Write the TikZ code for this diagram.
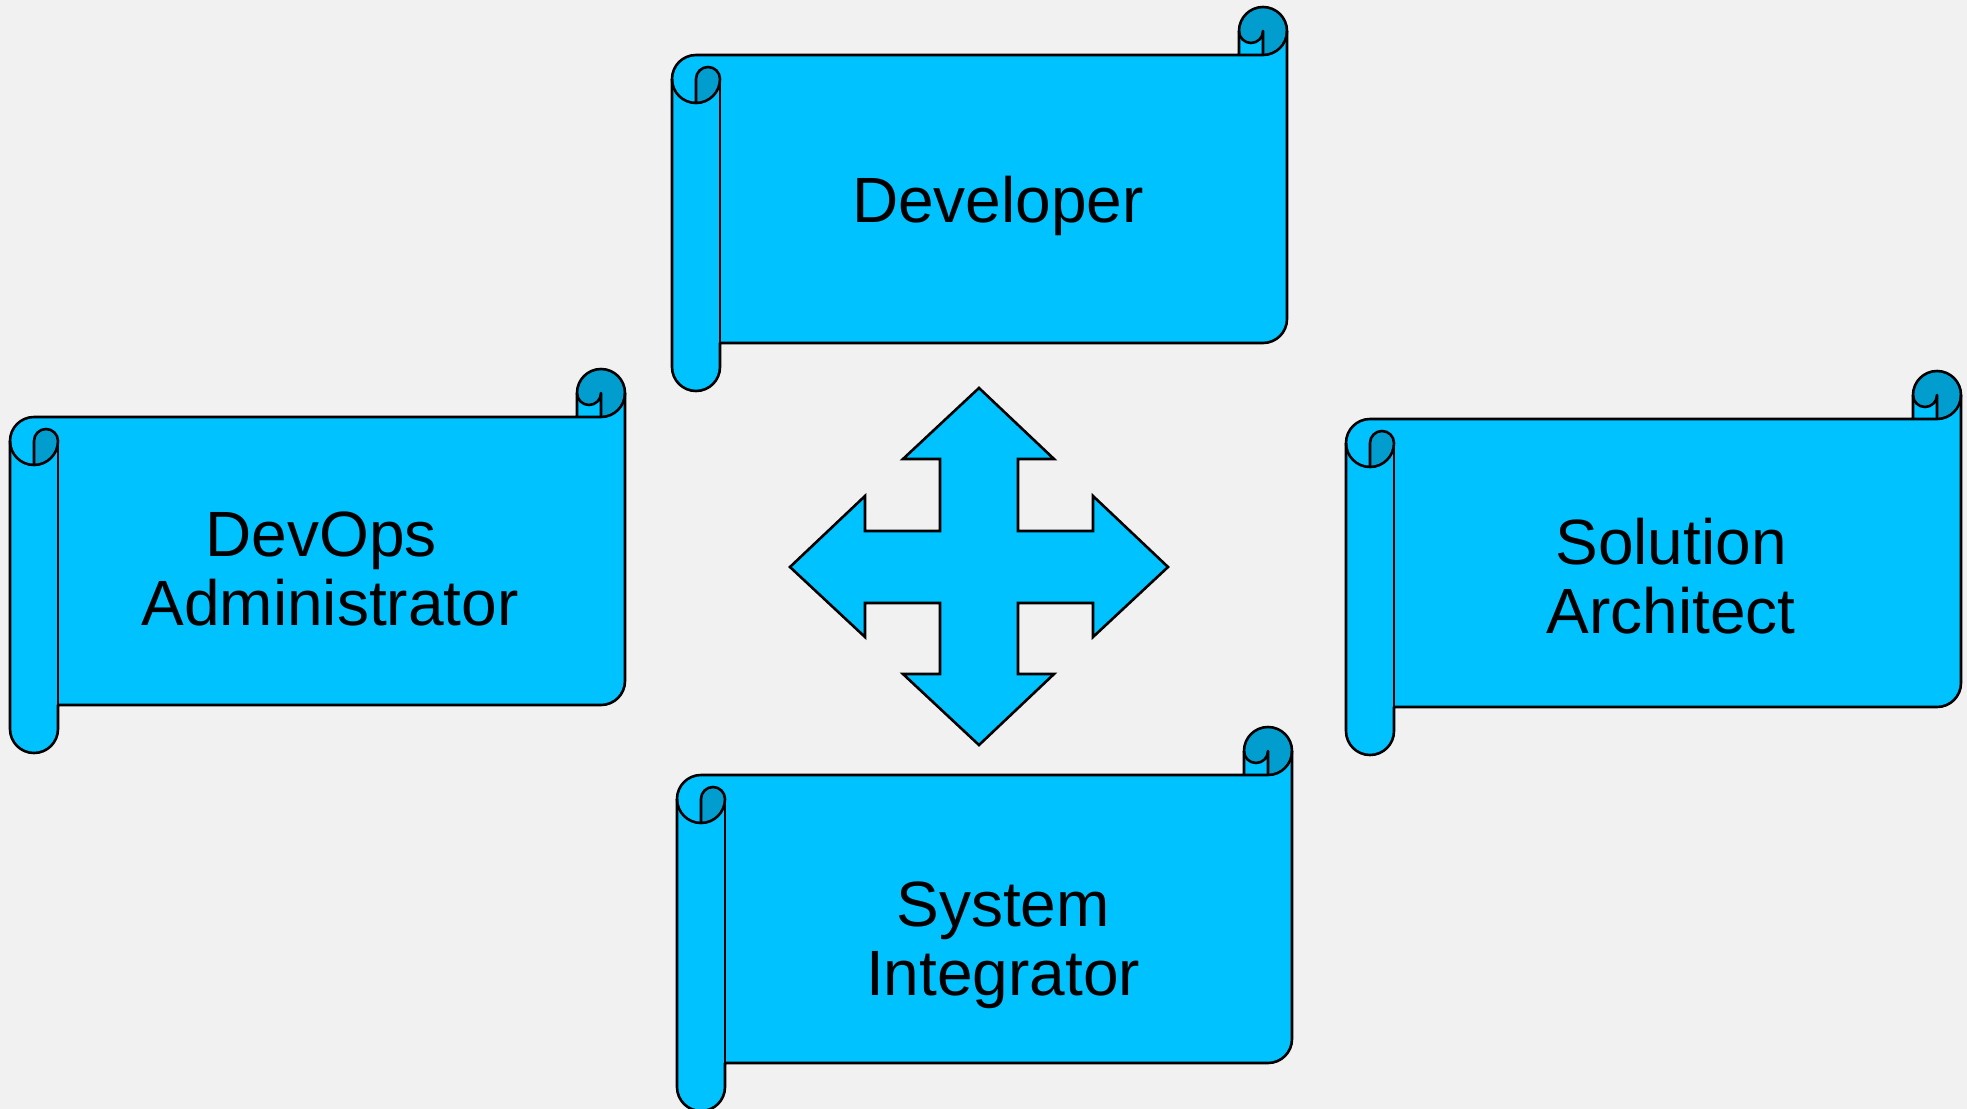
\documentclass[tikz,border=0pt]{standalone}
\usepackage{fontspec}
\setmainfont{Liberation Sans}
\definecolor{bgc}{HTML}{F1F1F1}
\definecolor{scrollc}{HTML}{00C2FF}
\definecolor{curlc}{HTML}{009DCE}
\newcommand{\myscroll}[2]{%
\begin{scope}[shift={(#1,#2)}]
 % body fill
 \fill[scrollc] (615,24) arc[start angle=0,delta angle=90,radius=24] -- (591,24)
   arc[start angle=0,delta angle=180,radius=12] -- (567,48) -- (24,48)
   arc[start angle=270,delta angle=-90,radius=24] -- (0,360)
   arc[start angle=180,delta angle=-180,radius=24] -- (48,336) -- (591,336)
   arc[start angle=90,delta angle=-90,radius=24] -- cycle;
 % darker curls
 \fill[curlc] (24,96) arc[start angle=90,delta angle=-90,radius=24]
   arc[start angle=0,delta angle=-180,radius=12] -- cycle;
 \fill[curlc] (591,48) arc[start angle=90,delta angle=-270,radius=24]
   arc[start angle=180,delta angle=-180,radius=12] -- cycle;
 % outlines
 \draw[outl] (0,72) arc[start angle=180,delta angle=90,radius=24] -- (567,48) -- (567,24)
   arc[start angle=180,delta angle=180,radius=24] -- (615,312)
   arc[start angle=0,delta angle=90,radius=24] -- (48,336) -- (48,360)
   arc[start angle=0,delta angle=180,radius=24] -- cycle;
 \draw[outl] (567,48) -- (591,48) arc[start angle=90,delta angle=-90,radius=24];
 \draw[outl] (591,48) -- (591,24) arc[start angle=0,delta angle=180,radius=12];
 \draw[outl] (24,96) -- (24,72) arc[start angle=180,delta angle=180,radius=12]
   arc[start angle=0,delta angle=180,radius=24];
 \draw[outl] (48,72) -- (48,336);
\end{scope}}
\begin{document}
\begin{tikzpicture}[x=0.5pt,y=-0.5pt,
  outl/.style={draw=black,line width=1.3pt,line join=round},
  lbl/.style={font=\fontsize{32}{34.5}\selectfont,align=center,anchor=base,inner sep=0pt,text=black}]
\useasboundingbox (0,0) rectangle (1967,1109);
\fill[bgc] (0,0) rectangle (1967,1109);
\myscroll{672}{7}
\myscroll{10}{369}
\myscroll{1346}{371}
\myscroll{677}{727}
\node[lbl] (dev) at (998,222) {Developer};
\node[lbl] (ops) at (330,625) {DevOps\hspace*{0.278em}\\Administrator};
\node[lbl] (sol) at (1671,633) {Solution\\Architect};
\node[lbl] (sys) at (1003,995) {System\\Integrator};
\filldraw[fill=scrollc,outl,line join=miter] (979,388) -- (1054,459) -- (1018,459) -- (1018,531) -- (1093,531) -- (1093,496)
  -- (1168,567) -- (1093,637) -- (1093,603) -- (1018,603) -- (1018,674) -- (1054,674)
  -- (979,745) -- (903,674) -- (940,674) -- (940,603) -- (865,603) -- (865,637)
  -- (790,567) -- (865,496) -- (865,531) -- (940,531) -- (940,459) -- (903,459) -- cycle;
\end{tikzpicture}
\end{document}
